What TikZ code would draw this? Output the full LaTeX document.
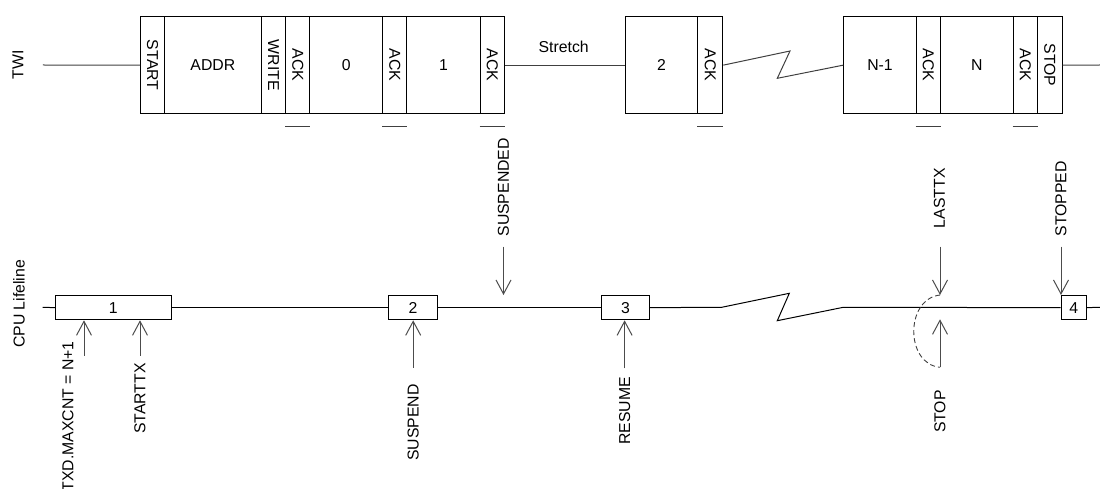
\documentclass[tikz,border=0pt]{standalone}
\usepackage{fontspec}
\setmainfont{Liberation Sans}
\usetikzlibrary{arrows.meta}
\begin{document}
\begin{tikzpicture}[x=1pt,y=-1pt,
  font=\fontsize{15.8}{18}\selectfont,
  cell/.style={draw=black, line width=1pt, minimum height=97.3pt, inner sep=0pt, anchor=north west},
  ebox/.style={draw=black, line width=1pt, minimum height=24.3pt, inner sep=0pt, anchor=north west},
  wire/.style={draw=black!75, line width=1pt},
  life/.style={draw=black, line width=1pt},
  arr/.style={draw=black!70, line width=1pt, -{Straight Barb[length=14pt,width=15pt,line width=1pt]}},
  ovl/.style={draw=black!75, line width=1pt},
  vlab/.style={rotate=90, inner sep=0pt},
  dashc/.style={draw=black!75, line width=0.9pt, dash pattern=on 5pt off 3pt}
]
\useasboundingbox (0,0) rectangle (1100,489);

% ---------- TWI row ----------
\node[vlab] (twi) at (18,65) {TWI};
\coordinate (twiL) at (42.9,65);
\coordinate (twiR) at (1100,65);

\node[cell, minimum width=24pt]   (start) at (140,16)   {\rotatebox{-90}{START}};
\node[cell, minimum width=96.7pt] (addr)  at (164,16)   {ADDR};
\node[cell, minimum width=24.6pt] (write) at (260.7,16) {\rotatebox{-90}{WRITE}};
\node[cell, minimum width=24pt]   (ack1)  at (285.3,16) {\rotatebox{-90}{ACK}};
\node[cell, minimum width=72.8pt] (d0)    at (309.3,16) {0};
\node[cell, minimum width=24.3pt] (ack2)  at (382.1,16) {\rotatebox{-90}{ACK}};
\node[cell, minimum width=73.2pt] (d1)    at (406.4,16) {1};
\node[cell, minimum width=24.3pt] (ack3)  at (479.6,16) {\rotatebox{-90}{ACK}};
\node[cell, minimum width=72.7pt] (d2)    at (624.6,16) {2};
\node[cell, minimum width=25pt]   (ack4)  at (697.3,16) {\rotatebox{-90}{ACK}};
\node[cell, minimum width=72.4pt] (dn1)   at (843.3,16) {N-1};
\node[cell, minimum width=24.3pt] (ack5)  at (915.7,16) {\rotatebox{-90}{ACK}};
\node[cell, minimum width=72.7pt] (dn)    at (940,16)   {N};
\node[cell, minimum width=24pt]   (ack6)  at (1012.7,16) {\rotatebox{-90}{ACK}};
\node[cell, minimum width=25pt]   (stopc) at (1036.7,16) {\rotatebox{-90}{STOP}};

\node[inner sep=0pt] (stretch) at (563.7,46.7) {Stretch};

\draw[wire] (twiL) -- (start.west);
\draw[wire] (ack3.east) -- (d2.west);
\coordinate (tz1) at (790,51);
\coordinate (tz2) at (777.3,78.3);
\draw[wire] (ack4.east) -- (tz1) -- (tz2) -- (dn1.west);
\draw[wire] (stopc.east) -- (twiR);

% overlines below ACK fields
\foreach \a in {ack1,ack2,ack3,ack4,ack5,ack6}{
  \draw[ovl] ([yshift=-12.4pt]\a.south west) -- ([yshift=-12.4pt]\a.south east);
}

% ---------- CPU lifeline ----------
\node[vlab] (cpu) at (19,304) {CPU Lifeline};
\coordinate (lifeL) at (42.7,307.3);
\coordinate (lifeR) at (1100,307.3);

\node[ebox, minimum width=115.7pt] (b1) at (55,295)     {1};
\node[ebox, minimum width=48.6pt]  (b2) at (388.2,295)  {2};
\node[ebox, minimum width=48pt]    (b3) at (601,295)    {3};
\node[ebox, minimum width=25pt]    (b4) at (1060.7,295) {4};

\coordinate (lz0) at (721.7,307.3);
\coordinate (lz1) at (789.3,293.3);
\coordinate (lz2) at (777.3,320.7);
\coordinate (lz3) at (843.3,307.3);

\draw[life] (lifeL) -- (b1.west);
\draw[life] (b1.east) -- (b2.west);
\draw[life] (b2.east) -- (b3.west);
\draw[life] (b3.east) -- (lz0) -- (lz1) -- (lz2) -- (lz3) -- (b4.west);
\draw[life] (b4.east) -- (lifeR);

% ---------- upward event arrows (tasks) ----------
\coordinate (txdT) at (84,355.7);
\coordinate (sttT) at (140,355.7);
\coordinate (susT) at (413.2,367.7);
\coordinate (resT) at (624.6,368.3);
\coordinate (stpT) at (940,367.3);
\coordinate (stpH) at (940,319.3);

\draw[arr] (txdT) -- (txdT |- b1.south);
\draw[arr] (sttT) -- (sttT |- b1.south);
\draw[arr] (susT) -- (susT |- b2.south);
\draw[arr] (resT) -- (resT |- b3.south);
\draw[arr] (stpT) -- (stpH);

\node[vlab, anchor=east] (ltxd) at (68,341)    {TXD.MAXCNT = N+1};
\node[vlab, anchor=east] (lstt) at (140,363)   {STARTTX};
\node[vlab, anchor=east] (lsus) at (413.2,384) {SUSPEND};
\node[vlab, anchor=east] (lres) at (624.6,376.7) {RESUME};
\node[vlab, anchor=east] (lstp) at (940,390)   {STOP};

% ---------- downward event arrows (events) ----------
\coordinate (sdT) at (503.5,246.7);
\coordinate (sdH) at (503.5,295);
\coordinate (ltT) at (940,246.7);
\coordinate (ltH) at (940,295);
\coordinate (spT) at (1061,246.7);

\draw[arr] (sdT) -- (sdH);
\draw[arr] (ltT) -- (ltH);
\draw[arr] (spT) -- (spT |- b4.north);

\node[vlab, anchor=west] (lsd) at (503.5,236.7) {SUSPENDED};
\node[vlab, anchor=west] (llt) at (939.5,228.3) {LASTTX};
\node[vlab, anchor=west] (lsp) at (1061,236.7)  {STOPPED};

% dashed link LASTTX -> STOP
\draw[dashc] (ltH) .. controls (905,299) and (905,364) .. (stpT);

\end{tikzpicture}
\end{document}
